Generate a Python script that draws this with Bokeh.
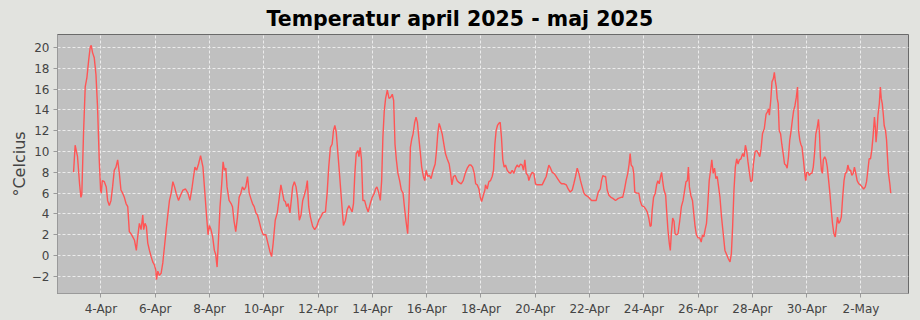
import pandas as pd
from bokeh.plotting import figure
from bokeh.models import Range1d, FixedTicker, ColumnDataSource
from bokeh.embed import file_html
from bokeh.resources import INLINE

# hours since 2025-04-04 00:00 and temperature (°C)
hours = [-24.2, -22.8, -20.7, -18.9, -17.7, -16.9, -15.4, -13.9, -12.4, -10.9, -9.5, -8.6, -7.4, -5.9, -4.4, -3.0, -1.5, -0.3,
         0.3, 1.2, 3.0, 4.7, 5.9, 7.4, 8.9, 10.3, 11.8, 13.3, 14.8, 16.3, 17.7, 19.2, 20.7, 22.2, 23.7, 25.1, 26.6, 28.1, 29.6,
         31.3, 32.5, 34.0, 35.5, 37.0, 37.8, 39.0, 40.2, 41.4, 42.9, 44.4, 45.8, 47.3, 48.5, 49.1, 50.3, 51.7, 53.2, 54.7,
         56.2, 57.7, 59.1, 60.6, 62.1, 63.6, 65.1, 66.5, 68.6, 70.4, 72.5, 74.8, 76.9, 78.7, 80.4, 81.9, 83.1, 84.6, 86.3,
         88.1, 90.2, 91.7, 93.2, 94.7, 95.9, 97.3, 98.8, 100.3, 101.5, 102.7, 103.9, 105.3, 106.8, 108.0, 109.2, 110.4,
         111.5, 113.3, 115.1, 116.3, 117.7, 119.2, 120.7, 122.2, 123.7, 125.1, 126.6, 128.1, 129.6, 131.1, 132.5, 134.0,
         135.5, 137.0, 138.4, 139.9, 141.7, 143.5, 145.8, 147.6, 149.4, 150.9, 152.3, 154.1, 155.9, 157.7, 159.1, 160.6,
         161.8, 163.0, 164.2, 165.6, 167.1, 168.3, 169.5, 171.0, 172.5, 173.9, 175.4, 176.9, 178.4, 179.8, 181.3, 182.5,
         183.7, 185.2, 187.2, 189.0, 190.8, 192.6, 194.3, 196.1, 198.5, 200.0, 201.4, 202.9, 204.4, 205.6, 206.8, 208.0,
         209.1, 210.9, 212.7, 214.4, 216.2, 217.7, 219.2, 220.7, 222.1, 223.3, 224.5, 225.7, 227.2, 228.1, 229.2, 230.4,
         231.6, 233.1, 234.6, 236.3, 238.1, 239.9, 241.7, 242.8, 244.0, 245.5, 247.0, 248.2, 249.3, 250.5, 251.7, 253.2,
         254.7, 256.1, 257.6, 258.8, 260.0, 261.2, 262.6, 264.1, 265.6, 267.1, 268.6, 270.0, 271.2, 272.4, 273.6, 274.8,
         276.0, 277.4, 278.6, 279.8, 281.0, 282.2, 283.6, 285.1, 286.3, 287.5, 289.0, 290.4, 291.9, 293.7, 295.5, 296.7,
         297.8, 299.0, 300.2, 301.7, 303.2, 304.6, 306.1, 307.9, 309.1, 310.3, 311.7, 313.2, 315.0, 316.8, 318.5, 320.3,
         322.1, 323.9, 325.6, 327.1, 328.6, 330.1, 331.3, 332.7, 334.2, 335.4, 336.6, 338.1, 339.5, 340.0, 341.5, 343.0,
         344.4, 345.9, 347.1, 348.3, 349.4, 350.6, 351.8, 353.0, 354.1, 355.3, 356.5, 357.7, 359.2, 360.6, 362.1, 363.6,
         365.1, 366.5, 368.0, 369.5, 371.0, 372.4, 373.6, 374.8, 376.0, 377.5, 378.3, 379.8, 381.3, 382.8, 384.2, 385.7,
         387.8, 390.1, 391.9, 393.7, 394.9, 396.0, 397.5, 399.0, 400.5, 401.9, 403.7, 405.5, 407.2, 409.6, 411.4, 413.1,
         414.9, 416.7, 418.1, 419.6, 421.1, 422.6, 424.0, 425.5, 427.0, 428.5, 430.2, 432.0, 433.8, 435.8, 437.9, 439.7,
         441.5, 442.6, 443.8, 445.0, 446.2, 447.6, 449.1, 450.9, 452.6, 455.0, 457.4, 459.9, 461.3, 462.8, 464.3, 465.8,
         467.0, 467.9, 468.8, 470.2, 471.1, 472.0, 473.8, 475.6, 476.7, 478.2, 480.0, 481.5, 483.0, 484.4, 485.6, 486.5,
         487.4, 488.6, 490.1, 491.3, 492.4, 493.6, 494.8, 495.7, 496.6, 497.8, 499.3, 500.1, 501.3, 502.5, 503.4, 504.3,
         505.5, 506.7, 507.6, 508.7, 510.2, 511.7, 513.2, 514.7, 516.1, 517.3, 518.5, 519.4, 520.3, 521.5, 523.0, 524.1,
         525.3, 526.5, 528.0, 529.5, 530.7, 531.9, 533.0, 534.2, 535.4, 536.6, 537.8, 539.0, 540.1, 541.3, 542.5, 543.7,
         544.9, 546.1, 547.3, 548.7, 550.2, 551.7, 553.2, 554.7, 556.2, 557.4, 558.5, 559.7, 560.9, 562.1, 563.3, 564.5,
         565.9, 567.4, 568.6, 569.8, 571.0, 572.1, 573.3, 574.5, 575.7, 576.9, 578.4, 579.8, 581.3, 582.5, 583.7, 584.9,
         586.5, 588.1, 589.3, 590.2, 591.0, 592.2, 593.3, 594.5, 595.4, 596.2, 597.1, 597.9, 598.8, 599.7, 600.9, 602.0,
         603.2, 604.4, 605.5, 606.7, 607.9, 609.0, 610.2, 611.3, 612.4, 613.6, 614.8, 615.9, 616.8, 617.9, 618.8, 619.9,
         621.1, 622.3, 623.1, 624.0, 625.2, 626.3, 627.5, 628.6, 629.8, 630.9, 632.1, 633.3, 634.4, 635.3, 636.1, 637.0,
         637.9, 638.7, 639.9, 641.1, 642.2, 643.4, 644.5, 645.7, 646.8, 648.0, 649.2, 650.3, 651.2, 652.3, 653.5, 654.6,
         655.8, 657.0, 658.1, 659.3, 660.4, 661.6, 662.8, 663.9, 665.1, 666.2, 667.4, 668.6, 670.0, 671.4, 672.9, 674.3,
         675.8, 676.9, 678.1, 679.2, 680.4, 681.5, 682.7, 683.9, 684.7, 685.3, 686.2, 687.0, 688.2, 689.1, 689.9, 690.8,
         691.7, 692.5, 693.7, 694.6, 695.4, 696.3, 697.5, 698.3]

temps = [8.0, 10.6, 9.5, 6.9, 5.6, 5.9, 11.7, 16.2, 17.1, 18.7, 20.0, 20.2, 19.5, 19.0, 17.4, 14.3, 9.2, 6.3,
         6.0, 7.2, 7.1, 6.6, 5.3, 4.8, 5.3, 6.6, 8.2, 8.5, 9.2, 7.9, 6.3, 6.0, 5.6, 5.0, 4.7, 2.3, 2.1, 1.8, 1.5,
         0.5, 1.8, 3.1, 2.5, 3.9, 2.5, 3.1, 2.8, 1.2, 0.5, -0.1, -0.6, -0.9, -1.4, -2.3, -1.5, -1.9, -1.7, -0.7,
         0.9, 2.5, 3.9, 5.3, 6.0, 7.1, 6.6, 6.0, 5.3, 5.8, 6.3, 6.4, 6.0, 5.3, 6.4, 7.6, 8.5, 8.2, 8.8,
         9.6, 8.5, 6.3, 4.1, 2.0, 2.9, 2.5, 1.8, 0.5, 0.1, -1.1, 1.5, 4.7, 6.9, 9.0, 8.2, 8.4,
         6.6, 5.3, 5.0, 4.7, 3.3, 2.3, 3.7, 5.6, 6.0, 6.6, 6.3, 6.6, 7.6, 6.0, 5.5, 5.0,
         4.7, 4.1, 3.9, 3.3, 2.5, 2.0, 2.0, 1.2, 0.4, -0.1, 1.2, 3.4, 4.1, 5.6, 6.8, 6.0,
         5.3, 5.2, 4.7, 5.0, 4.1, 5.3, 6.6, 7.1, 6.6, 5.5, 3.4, 3.9, 5.3, 5.8, 6.4, 7.2,
         4.7, 3.7, 2.8, 2.5, 2.8, 3.4, 3.7, 4.1, 4.2, 6.0, 8.5, 10.4, 10.7, 12.0, 12.5, 11.9,
         10.4, 7.9, 5.3, 2.9, 3.4, 4.4, 4.8, 4.5, 4.2, 5.0, 7.9, 9.8, 10.1, 9.5, 10.4, 9.2,
         5.3, 5.3, 4.7, 4.2, 5.0, 5.6, 6.0, 6.4, 6.6, 6.1, 5.3, 7.2, 11.4, 13.9, 15.1, 15.9,
         15.1, 15.2, 15.5, 14.9, 10.7, 9.2, 7.9, 7.2, 6.3, 6.0, 4.4, 3.1, 2.1, 5.3, 10.4, 11.2,
         11.7, 12.8, 13.3, 12.8, 11.4, 10.1, 8.5, 7.6, 7.2, 8.2, 7.6, 7.7, 7.4, 8.2, 8.8, 10.1,
         11.7, 12.7, 12.3, 11.7, 10.7, 9.8, 9.3, 8.8, 7.9, 6.8, 7.6, 7.7, 7.2, 7.0, 6.9, 7.2,
         7.9, 8.4, 8.7, 8.7, 8.5, 7.9, 6.9, 6.8, 6.4, 5.6, 5.2, 5.8, 6.3, 6.8, 6.4, 7.1,
         7.2, 7.6, 8.2, 10.7, 12.0, 12.5, 12.7, 12.8, 11.4, 9.2, 8.5, 8.7, 8.2, 8.0, 7.9, 8.2,
         7.9, 8.4, 8.7, 8.5, 8.8, 8.7, 8.2, 9.2, 7.9, 7.7, 7.2, 7.7, 8.0, 7.9, 6.9, 6.8,
         6.8, 6.8, 7.2, 7.6, 8.2, 8.7, 8.4, 8.0, 7.9, 7.7, 7.4, 7.1, 6.9, 6.9, 6.8, 6.4,
         6.1, 6.3, 6.9, 7.6, 8.4, 7.9, 7.2, 6.6, 6.0, 5.8, 5.7, 5.5, 5.3, 5.3, 5.3, 6.1,
         6.4, 7.2, 7.7, 7.6, 7.6, 6.3, 5.8, 5.6, 5.5, 5.3, 5.5, 5.6, 5.6, 6.3, 7.2, 7.9,
         8.8, 9.8, 8.7, 8.5, 7.9, 6.1, 6.0, 6.0, 5.3, 4.8, 4.7, 4.5, 4.2, 3.6, 2.8, 2.9,
         4.4, 5.6, 6.0, 6.8, 7.2, 6.9, 7.6, 8.0, 7.2, 6.3, 5.8, 4.4, 2.5, 1.2, 0.5, 2.1,
         3.6, 3.3, 2.1, 2.0, 2.1, 3.3, 4.7, 5.3, 6.3, 7.1, 7.2, 8.5, 6.6, 5.8, 5.3, 4.1,
         2.8, 2.0, 1.7, 1.7, 1.3, 2.0, 1.8, 2.5, 3.1, 5.0, 7.2, 8.2, 9.2, 7.9, 8.4, 7.4,
         7.6, 6.6, 5.6, 3.7, 2.1, 0.5, 0.1, -0.3, -0.6, 0.2, 2.8, 6.3, 8.5, 9.3, 8.8, 9.2,
         9.3, 9.8, 9.5, 10.6, 10.0, 9.0, 8.0, 7.1, 7.2, 8.8, 10.0, 10.1, 9.8, 9.5, 10.3, 11.7,
         12.2, 13.6, 13.8, 14.1, 13.5, 14.9, 16.7, 17.0, 17.6, 16.8, 16.2, 15.1, 14.6, 12.0, 11.7, 10.7,
         9.8, 8.8, 8.7, 8.4, 9.5, 11.1, 12.0, 13.0, 13.9, 14.4, 15.2, 16.2, 12.0, 11.1, 10.7, 10.4,
         9.2, 7.9, 7.2, 8.0, 8.0, 7.7, 7.9, 7.9, 8.5, 9.8, 11.7, 12.3, 13.1, 11.7, 9.5, 8.2,
         7.9, 9.2, 9.5, 9.2, 8.5, 7.2, 6.0, 4.4, 3.1, 2.1, 1.8, 2.8, 3.7, 3.1, 3.3, 3.7,
         5.6, 7.2, 7.9, 8.0, 8.7, 8.2, 8.2, 7.7, 7.9, 8.5, 7.9, 7.2, 6.9, 6.8, 6.6, 6.4,
         6.6, 7.1, 8.2, 9.3, 9.3, 10.1, 11.5, 13.3, 12.3, 10.9, 12.0, 13.5, 14.6, 16.2, 15.1, 14.6,
         13.6, 12.5, 12.0, 11.1, 9.5, 7.9, 6.9, 6.0]

tick_dates = ["2025-04-04", "2025-04-06", "2025-04-08", "2025-04-10", "2025-04-12", "2025-04-14",
              "2025-04-16", "2025-04-18", "2025-04-20", "2025-04-22", "2025-04-24", "2025-04-26",
              "2025-04-28", "2025-04-30", "2025-05-02"]
tick_labels = ["4-Apr", "6-Apr", "8-Apr", "10-Apr", "12-Apr", "14-Apr", "16-Apr", "18-Apr",
               "20-Apr", "22-Apr", "24-Apr", "26-Apr", "28-Apr", "30-Apr", "2-May"]
y_ticks = [-2, 0, 2, 4, 6, 8, 10, 12, 14, 16, 18, 20]

base = pd.Timestamp("2025-04-04")
times = base + pd.to_timedelta(hours, unit="h")
src = ColumnDataSource(dict(t=times, temp=temps))


def ms(ts):
    return int(pd.Timestamp(ts).value // 10**6)


x_start = ms(base - pd.Timedelta(hours=38.4))
x_end = ms(base + pd.Timedelta(hours=714))

BG = "#e2e3df"
p = figure(width=910, height=318, x_axis_type="datetime", output_backend="svg",
           toolbar_location=None, x_range=Range1d(x_start, x_end), y_range=Range1d(-3.64, 21.24),
           min_border_left=57, min_border_right=2, min_border_top=0, min_border_bottom=0)

p.title.text = "Temperatur april 2025 - maj 2025"
p.title.align = "left"
p.title.offset = 209
p.title.text_font = "DejaVu Sans"
p.title.text_font_size = "20.5px"
p.title.text_font_style = "bold"
p.title.text_color = "#000000"
p.title.standoff = 8

p.background_fill_color = "#c0c0c0"
p.border_fill_color = BG
p.outline_line_color = "#6a6a6a"
p.outline_line_width = 1

p.line("t", "temp", source=src, line_color="#ff5555", line_width=1.4)

p.xaxis.ticker = FixedTicker(ticks=[ms(d) for d in tick_dates])
p.xaxis.major_label_overrides = {ms(d): lab for d, lab in zip(tick_dates, tick_labels)}
p.yaxis.ticker = FixedTicker(ticks=y_ticks)

for ax in (p.xaxis[0], p.yaxis[0]):
    ax.axis_line_color = "#9a9a9a"
    ax.major_tick_line_color = "#9a9a9a"
    ax.major_tick_in = 0
    ax.major_tick_out = 4
    ax.minor_tick_line_color = None
    ax.major_label_text_font = "DejaVu Sans"
    ax.major_label_text_font_size = "12px"
    ax.major_label_text_color = "#444444"
    ax.major_label_standoff = 4

p.yaxis.axis_label = "°Celcius"
p.yaxis.axis_label_text_font = "DejaVu Sans"
p.yaxis.axis_label_text_font_size = "16px"
p.yaxis.axis_label_text_font_style = "normal"
p.yaxis.axis_label_text_color = "#444444"
p.yaxis.axis_label_standoff = 0

p.grid.grid_line_color = "#ececec"
p.grid.grid_line_dash = "3 2"
p.grid.grid_line_width = 1

html = file_html(p, INLINE)
html = html.replace("<head>", "<head><style>html, body {background: %s;}</style>" % BG, 1)
open("out.html", "w").write(html)
